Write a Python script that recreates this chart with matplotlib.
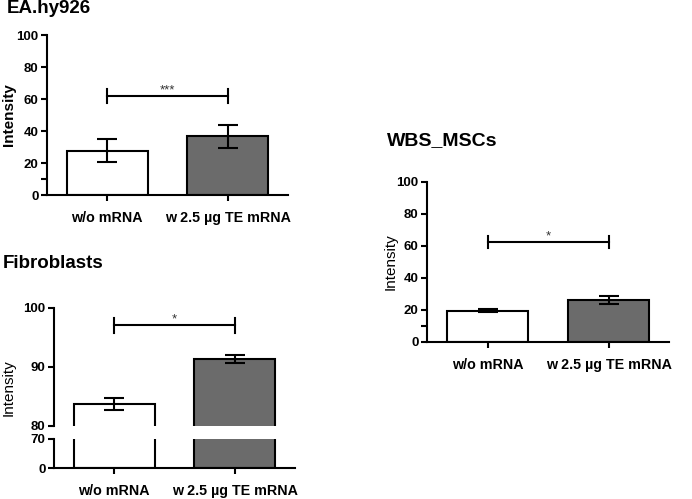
import matplotlib
matplotlib.use("Agg")
import matplotlib.pyplot as plt

plt.rcParams["font.family"] = ["Liberation Sans", "DejaVu Sans"]

GROUPS = ["w/o mRNA", "w 2.5 µg TE mRNA"]

# EA.hy926
ea_means = [27.7, 36.6]
ea_err = [7.3, 7.2]
ea_sig = 61.7
ea_stars = "***"

# Fibroblasts (broken axis)
fib_means = [83.7, 91.35]
fib_err = [1.05, 0.7]
fib_sig = 97.0
fib_stars = "*"

# WBS_MSCs
wbs_means = [19.5, 26.0]
wbs_err = [0.7, 2.4]
wbs_sig = 62.6
wbs_stars = "*"

BAR_COLORS = ["white", "#6b6b6b"]
W, H = 692, 499
LW = 1.5


def _ax(fig, left, top, right, bottom):
    # pixel box -> figure fraction
    return fig.add_axes([left / W, (H - bottom) / H, (right - left) / W, (bottom - top) / H])


def _style(ax, show_x=True):
    for s in ("top", "right"):
        ax.spines[s].set_visible(False)
    for s in ("left", "bottom"):
        ax.spines[s].set_linewidth(LW)
    ax.tick_params(axis="both", width=LW, length=4.5, direction="out")
    ax.tick_params(axis="y", labelsize=9.5, pad=1.5)
    for lbl in ax.get_yticklabels():
        lbl.set_fontweight("bold")
    ax.set_xlim(-0.5, 1.5)
    ax.set_xticks([0, 1])
    if show_x:
        ax.set_xticklabels(GROUPS, fontsize=10.3, fontweight="bold")
        ax.tick_params(axis="x", pad=7)
    else:
        ax.spines["bottom"].set_visible(False)
        ax.tick_params(axis="x", bottom=False, labelbottom=False)


def _bars(ax, means, err):
    ax.bar([0, 1], means, width=0.67, color=BAR_COLORS, edgecolor="black",
           linewidth=LW, zorder=2)
    ax.errorbar([0, 1], means, yerr=err, fmt="none", ecolor="black",
                elinewidth=LW, capsize=7.5, capthick=LW, zorder=3)


def _sig(ax, y, half, stars, star_y):
    ax.plot([0, 1], [y, y], color="black", lw=LW, clip_on=False, zorder=3)
    for x in (0, 1):
        ax.plot([x, x], [y - half, y + half], color="black", lw=LW,
                clip_on=False, zorder=3)
    ax.text(0.5, star_y, stars, ha="center", va="baseline", fontsize=9.5,
            color="#333333")


fig = plt.figure(figsize=(W / 100, H / 100), dpi=100)

# ── EA.hy926 ──────────────────────────────────────────────
ax1 = _ax(fig, 47, 35, 288, 195)
_bars(ax1, ea_means, ea_err)
ax1.set_ylim(0, 100)
ax1.set_yticks([0, 20, 40, 60, 80, 100])
ax1.set_yticks([10], minor=True)
ax1.tick_params(axis="y", which="minor", width=LW, length=4.5)
_style(ax1)
_sig(ax1, ea_sig, 4.5, ea_stars, ea_sig + 1.5)
ax1.set_ylabel("Intensity", fontsize=11, fontweight="bold")
ax1.yaxis.set_label_coords(-31 / 241, 0.5)
fig.text(7 / W, (H - 13) / H, "EA.hy926", fontsize=13.5, fontweight="bold",
         va="baseline")

# ── Fibroblasts ───────────────────────────────────────────
ax2t = _ax(fig, 54, 307.7, 295, 426)
ax2b = _ax(fig, 54, 438.7, 295, 468.3)
for ax in (ax2t, ax2b):
    _bars(ax, fib_means, fib_err)
ax2t.set_ylim(80, 100)
ax2t.set_yticks([80, 90, 100])
ax2b.set_ylim(0, 70)
ax2b.set_yticks([0, 70])
_style(ax2t, show_x=False)
_style(ax2b)
_sig(ax2t, fib_sig, 1.2, fib_stars, fib_sig + 0.45)
ax2t.set_ylabel("Intensity", fontsize=11)
ax2t.yaxis.set_label_coords(-38 / 241, (426 - 388) / 118.3)
fig.text(3 / W, (H - 268.5) / H, "Fibroblasts", fontsize=13.5,
         fontweight="bold", va="baseline")

# ── WBS_MSCs ──────────────────────────────────────────────
ax3 = _ax(fig, 427, 182, 669, 341.7)
_bars(ax3, wbs_means, wbs_err)
ax3.set_ylim(0, 100)
ax3.set_yticks([0, 20, 40, 60, 80, 100])
ax3.set_yticks([10], minor=True)
ax3.tick_params(axis="y", which="minor", width=LW, length=4.5)
_style(ax3)
_sig(ax3, wbs_sig, 3.8, wbs_stars, wbs_sig + 1.5)
ax3.set_ylabel("Intensity", fontsize=11)
ax3.yaxis.set_label_coords(-29 / 242, 0.5)
fig.text(387 / W, (H - 145) / H, "WBS_MSCs", fontsize=14, fontweight="bold",
         va="baseline")

fig.savefig("out.png", dpi=100)
